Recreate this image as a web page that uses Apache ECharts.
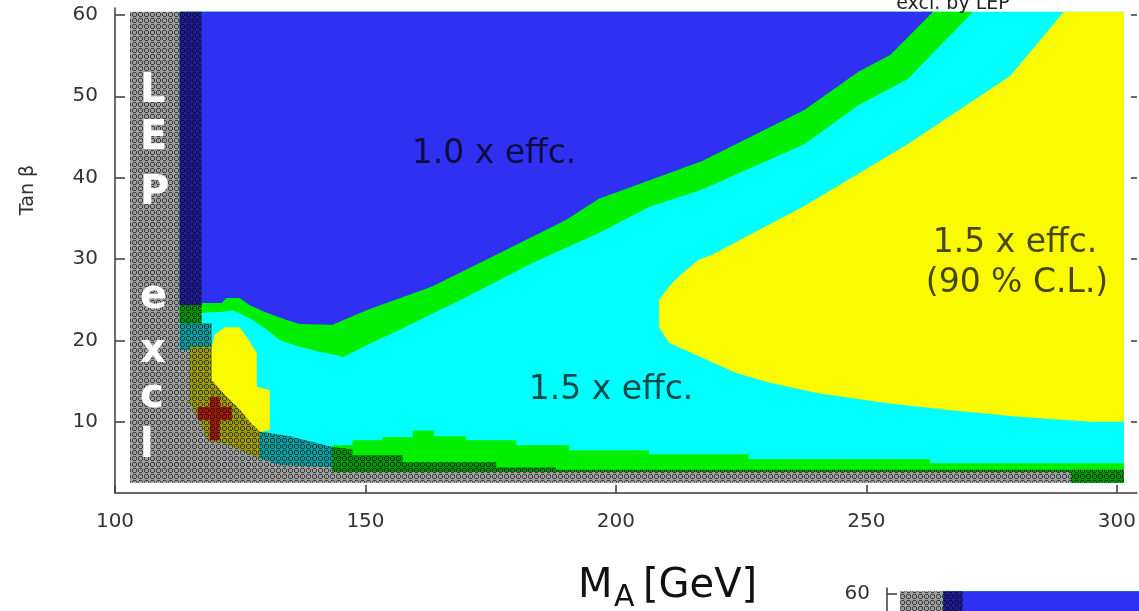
<!DOCTYPE html>
<html><head><meta charset="utf-8">
<script src="https://cdn.jsdelivr.net/npm/echarts@6/dist/echarts.min.js"></script>
<style>html,body{margin:0;padding:0;background:#fff;}#c{width:1139px;height:611px;}</style>
</head><body><div id="c"></div>
<script>
// ---- tick labels ----
const xTicks = [100, 150, 200, 250, 300];
const yTicks = [10, 20, 30, 40, 50, 60];
const yTicks2 = [60];

// ---- regions, points as [M_A (GeV), tan beta] ----
const cyanRegion = [[112.9,60.4],[301.4,60.4],[301.4,2.5],[290.8,2.5],[290.8,3.8],[143.4,3.8],[143.4,4.4],
  [132.9,4.7],[128.9,5.5],[122.9,7.1],[118.5,7.7],[116.9,10.2],[114.9,12.3],[114.9,18.8],[112.9,18.8]];

const greenUpperRegion = [[112.9,60.4],[271.3,60.4],[258.2,52.1],[248.4,48.9],[237.6,44.1],[217.1,38.5],
  [206.6,36.4],[196.6,33.2],[183.3,29.5],[170.1,25.3],[156.8,21.3],[150.2,19.4],[145.4,17.9],[144.8,18.1],
  [140.8,18.6],[136.9,19.2],[132.9,20.0],[130.3,21.3],[127.5,22.5],[123.5,23.7],[121.5,23.5],[117.3,23.4],
  [117.3,22.1],[112.9,22.1]];

const blueRegion = [[112.9,60.4],[263.3,60.4],[254.8,55.1],[248.4,53.0],[237.6,48.3],[217.1,42.0],
  [196.6,37.4],[190.0,34.8],[176.7,30.7],[163.3,26.6],[150.2,23.7],[143.4,21.9],[136.9,22.0],[134.3,22.5],
  [130.3,23.4],[126.9,24.3],[124.9,25.2],[122.3,25.2],[121.3,24.6],[117.3,24.6],[117.3,24.3],[112.9,24.3]];

const yellowRegion = [[289.4,60.4],[278.7,52.5],[258.2,44.1],[237.6,36.5],[219.1,30.5],[216.5,29.9],
  [212.5,27.8],[210.6,26.6],[208.6,25.0],[208.6,21.6],[210.6,19.7],[217.1,17.9],[223.9,16.0],[230.5,14.8],
  [240.4,13.5],[253.8,12.3],[266.9,11.4],[280.3,10.6],[294.8,10.0],[301.4,10.0],[301.4,60.4]];

const yellowSmallRegion = [[119.3,19.2],[119.9,20.7],[121.9,21.6],[124.9,21.6],[126.3,20.4],[128.3,18.4],
  [128.3,14.3],[130.9,13.9],[130.9,9.0],[128.9,8.7],[128.9,5.5],[122.9,7.1],[118.5,7.7],[116.9,10.2],
  [114.9,12.3],[114.9,19.2]];

const greenLowerRegion = [[143.4,7.1],[147.4,7.1],[147.4,7.7],[153.4,7.7],[153.4,8.1],[159.4,8.1],[159.4,8.9],
  [163.7,8.9],[163.7,8.2],[170.1,8.2],[170.1,7.7],[180.1,7.7],[180.1,7.1],[190.6,7.1],[190.6,6.5],[206.6,6.5],
  [206.6,6.0],[226.5,6.0],[226.5,5.4],[262.7,5.4],[262.7,4.9],[301.4,4.9],[301.4,2.5],[290.8,2.5],[290.8,3.8],
  [143.4,3.8]];

const redCrossRegion = [[118.9,13.0],[120.9,13.0],[120.9,11.8],[123.3,11.8],[123.3,10.2],[120.9,10.2],
  [120.9,7.7],[118.9,7.7],[118.9,10.2],[116.5,10.2],[116.5,11.8],[118.9,11.8]];

const lepExclRegion = [[103.0,60.4],[117.3,60.4],[117.3,22.1],[119.3,22.1],[119.3,15.1],[121.9,13.3],
  [124.9,11.5],[126.9,10.0],[128.9,8.8],[134.9,8.2],[143.4,6.9],[147.4,6.6],[147.4,5.9],[157.4,5.9],
  [157.4,5.0],[176.1,5.0],[176.1,4.4],[188.0,4.4],[188.0,4.1],[301.4,4.1],[301.4,2.5],[103.0,2.5]];

// ---- hatch pattern for the LEP excluded area ----
function makeHatch() {
  const c = document.createElement('canvas');
  c.width = 6; c.height = 6;
  const g = c.getContext('2d');
  g.fillStyle = 'rgba(0,0,0,0.38)';
  g.fillRect(0, 0, 6, 6);
  const ring = [[1,0],[2,0],[3,0],[0,1],[4,1],[0,2],[4,2],[0,3],[4,3],[1,4],[2,4],[3,4]];
  g.fillStyle = 'rgba(0,0,0,0.6)';
  ring.forEach(p => g.fillRect(p[0], p[1], 1, 1));
  return c;
}
const hatch = { image: makeHatch(), repeat: 'repeat' };

function poly(name, pts, fill, xi, yi, z) {
  return {
    type: 'custom', name: name, xAxisIndex: xi, yAxisIndex: yi, z: z, clip: true,
    silent: true, animation: false, data: pts,
    renderItem: function (params, api) {
      if (params.dataIndex !== 0) return null;
      const points = pts.map(p => api.coord(p));
      return { type: 'polygon', shape: { points: points }, style: { fill: fill } };
    }
  };
}

const layers = [
  ['cyan', cyanRegion, '#00ffff'],
  ['greenUpper', greenUpperRegion, '#00ee00'],
  ['blue', blueRegion, '#3030f2'],
  ['yellow', yellowRegion, '#fbfb00'],
  ['greenLower', greenLowerRegion, '#00ee00'],
  ['yellowSmall', yellowSmallRegion, '#fbfb00'],
  ['red', redCrossRegion, '#ff2a10'],
  ['lep', lepExclRegion, hatch]
];
const series = [];
layers.forEach((l, i) => series.push(poly(l[0], l[1], l[2], 0, 0, i + 1)));
[layers[0], layers[1], layers[2], layers[7]].forEach((l, i) => series.push(poly(l[0] + '2', l[1], l[2], 1, 2, i + 1)));

const axisLineStyle = { color: '#3a3a3a', width: 1.5 };
const labelStyle = { fontFamily: 'DejaVu Sans', fontSize: 20, color: '#333' };
const annoFill = 'rgba(0,0,0,0.72)';

const chart = echarts.init(document.getElementById('c'), null, { renderer: 'canvas' });
chart.setOption({
  backgroundColor: '#fff',
  animation: false,
  grid: [
    { left: 115, top: 8, right: 0, bottom: 118 },
    { left: 887, top: 588, right: 0, bottom: 0 }
  ],
  xAxis: [
    { gridIndex: 0, type: 'value', min: 100, max: 304,
      axisLine: { show: true, lineStyle: axisLineStyle },
      axisTick: { show: true, inside: true, length: 8, customValues: xTicks, lineStyle: axisLineStyle },
      axisLabel: Object.assign({ customValues: xTicks, margin: 19 }, labelStyle),
      splitLine: { show: false } },
    { gridIndex: 1, type: 'value', min: 100, max: 157.7, show: false }
  ],
  yAxis: [
    { gridIndex: 0, type: 'value', min: 1.23, max: 60.85,
      axisLine: { show: true, lineStyle: axisLineStyle },
      axisTick: { show: true, inside: true, length: 10, customValues: yTicks, lineStyle: axisLineStyle },
      axisLabel: Object.assign({ customValues: yTicks, margin: 17 }, labelStyle),
      splitLine: { show: false } },
    { gridIndex: 0, type: 'value', position: 'right', min: 1.23, max: 60.85,
      axisLine: { show: false },
      axisTick: { show: true, inside: true, length: 6, customValues: yTicks, lineStyle: axisLineStyle },
      axisLabel: { show: false }, splitLine: { show: false } },
    { gridIndex: 1, type: 'value', min: 57.6, max: 60.85,
      axisLine: { show: true, lineStyle: axisLineStyle },
      axisTick: { show: true, inside: true, length: 10, customValues: yTicks2, lineStyle: axisLineStyle },
      axisLabel: Object.assign({ customValues: yTicks2, margin: 17 }, labelStyle),
      splitLine: { show: false } }
  ],
  series: series,
  graphic: [
    { type: 'text', z: 100, x: 494, y: 154, style: { text: '1.0 x effc.', font: '33px "DejaVu Sans"', fill: annoFill, align: 'center', verticalAlign: 'middle' } },
    { type: 'text', z: 100, x: 611, y: 390, style: { text: '1.5 x effc.', font: '33px "DejaVu Sans"', fill: annoFill, align: 'center', verticalAlign: 'middle' } },
    { type: 'text', z: 100, x: 1015, y: 243, style: { text: '1.5 x effc.', font: '33px "DejaVu Sans"', fill: annoFill, align: 'center', verticalAlign: 'middle' } },
    { type: 'text', z: 100, x: 1017, y: 283, style: { text: '(90 % C.L.)', font: '33px "DejaVu Sans"', fill: annoFill, align: 'center', verticalAlign: 'middle' } },
    { type: 'text', z: 100, x: 953, y: 14, style: { text: 'excl. by LEP', font: '19px "DejaVu Sans"', fill: '#222', align: 'center', verticalAlign: 'bottom' } },
    { type: 'text', z: 100, x: 140, y: 92, style: { text: 'L', font: 'bold 40px "DejaVu Sans"', fill: '#fff', align: 'left', verticalAlign: 'middle' } },
    { type: 'text', z: 100, x: 140, y: 139, style: { text: 'E', font: 'bold 40px "DejaVu Sans"', fill: '#fff', align: 'left', verticalAlign: 'middle' } },
    { type: 'text', z: 100, x: 140, y: 194, style: { text: 'P', font: 'bold 40px "DejaVu Sans"', fill: '#fff', align: 'left', verticalAlign: 'middle' } },
    { type: 'text', z: 100, x: 140, y: 298, style: { text: 'e', font: 'bold 40px "DejaVu Sans"', fill: '#fff', align: 'left', verticalAlign: 'middle' } },
    { type: 'text', z: 100, x: 140, y: 352, style: { text: 'x', font: 'bold 40px "DejaVu Sans"', fill: '#fff', align: 'left', verticalAlign: 'middle' } },
    { type: 'text', z: 100, x: 140, y: 397, style: { text: 'c', font: 'bold 40px "DejaVu Sans"', fill: '#fff', align: 'left', verticalAlign: 'middle' } },
    { type: 'text', z: 100, x: 140, y: 447, style: { text: 'l', font: 'bold 40px "DejaVu Sans"', fill: '#fff', align: 'left', verticalAlign: 'middle' } },
    { type: 'text', z: 100, x: 28, y: 190, rotation: Math.PI / 2, style: { text: 'Tan β', font: '19px "DejaVu Sans"', fill: '#333', align: 'center', verticalAlign: 'middle' } },
    { type: 'text', z: 100, x: 578, y: 587, style: { text: 'M', font: '40px "DejaVu Sans"', fill: '#111', align: 'left', verticalAlign: 'middle' } },
    { type: 'text', z: 100, x: 614, y: 598, style: { text: 'A', font: '30px "DejaVu Sans"', fill: '#111', align: 'left', verticalAlign: 'middle' } },
    { type: 'text', z: 100, x: 643, y: 587, style: { text: '[GeV]', font: '40px "DejaVu Sans"', fill: '#111', align: 'left', verticalAlign: 'middle' } }
  ]
});
</script>
</body></html>
